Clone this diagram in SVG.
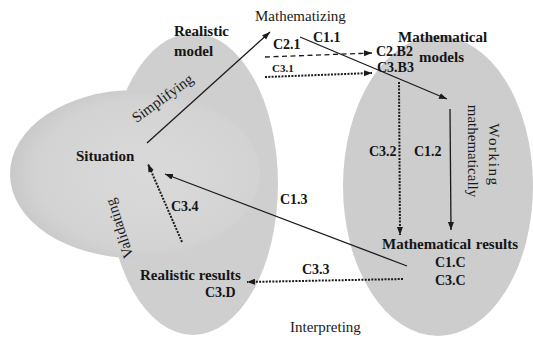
<svg xmlns="http://www.w3.org/2000/svg" width="533" height="338" viewBox="0 0 533 338">
<style>
.b{font-family:"Liberation Serif","Times New Roman",serif;font-weight:bold;font-size:15px;fill:#151515}
.c{font-family:"Liberation Serif","Times New Roman",serif;font-weight:bold;font-size:14px;fill:#151515}
.s{font-family:"Liberation Serif","Times New Roman",serif;font-weight:bold;font-size:11px;fill:#151515}
.r{font-family:"Liberation Serif","Times New Roman",serif;font-size:15px;fill:#1a1a1a}
.solid{stroke:#1a1a1a;stroke-width:1.3;fill:none}
.dash{stroke:#1a1a1a;stroke-width:1.3;fill:none;stroke-dasharray:5 3.5}
.dot{stroke:#1a1a1a;stroke-width:2;fill:none;stroke-dasharray:2 1.3}
</style>
<defs>
<marker id="ah" markerUnits="userSpaceOnUse" markerWidth="9" markerHeight="7" refX="8" refY="3" orient="auto">
<path d="M0,0 L8,3 L0,6 z" fill="#1a1a1a"/>
</marker>
<radialGradient id="hg" cx="0.55" cy="0.5" r="0.55">
<stop offset="0" stop-color="#dadada"/>
<stop offset="0.8" stop-color="#d3d3d3"/>
<stop offset="1" stop-color="#c9c9c9"/>
</radialGradient>
</defs>
<rect width="533" height="338" fill="#ffffff"/>
<g id="shapes">
<ellipse cx="193" cy="184" rx="85" ry="151" fill="#cfcfcf"/>
<ellipse cx="135" cy="174" rx="125" ry="84" fill="url(#hg)"/>
<ellipse cx="438" cy="186" rx="95" ry="150" fill="#cdcdcd"/>
</g>
<g id="connectors">
<line class="solid" x1="147" y1="143" x2="270" y2="32" marker-end="url(#ah)"/>
<line class="solid" x1="300" y1="37" x2="447" y2="99" marker-end="url(#ah)"/>
<line class="dash" x1="265" y1="57" x2="372" y2="53" marker-end="url(#ah)"/>
<line class="dot" x1="265" y1="77" x2="372" y2="73" marker-end="url(#ah)"/>
<line class="dot" x1="399" y1="82" x2="400" y2="235" marker-end="url(#ah)"/>
<line class="solid" x1="450" y1="109" x2="451" y2="230" marker-end="url(#ah)"/>
<line class="solid" x1="407" y1="266" x2="165" y2="174" marker-end="url(#ah)"/>
<line class="dot" x1="403" y1="279" x2="247" y2="282" marker-end="url(#ah)"/>
<line class="dot" x1="182" y1="242" x2="148" y2="164" marker-end="url(#ah)"/>
</g>
<g id="process-labels">
<text class="r" x="255" y="21">Mathematizing</text>
<text class="r" x="290" y="332">Interpreting</text>
<text class="r" text-anchor="middle" transform="translate(165.4,102.2) rotate(-36)">Simplifying</text>
<text class="r" text-anchor="middle" transform="translate(124,227) rotate(-108)">Validating</text>
<text class="r" text-anchor="middle" letter-spacing="1.6" transform="translate(488.5,155) rotate(90)">Working</text>
<text class="r" text-anchor="middle" transform="translate(468,151) rotate(90)">mathematically</text>
</g>
<g id="node-realistic-model">
<text class="b" x="174" y="36">Realistic</text>
<text class="b" x="174" y="56">model</text>
</g>
<g id="node-mathematical-models">
<text class="b" x="398" y="42">Mathematical</text>
<text class="b" x="419" y="62">models</text>
<text class="c" x="376" y="56">C2.B2</text>
<text class="c" x="377" y="72">C3.B3</text>
</g>
<g id="node-situation">
<text class="b" x="76" y="161">Situation</text>
</g>
<g id="node-mathematical-results">
<text class="b" x="382" y="249">Mathematical</text>
<text class="b" x="518" y="249" text-anchor="end">results</text>
<text class="c" x="435" y="267">C1.C</text>
<text class="c" x="435" y="285">C3.C</text>
</g>
<g id="node-realistic-results">
<text class="b" x="140" y="280">Realistic results</text>
<text class="c" x="205" y="297">C3.D</text>
</g>
<g id="connector-labels">
<text class="c" x="273" y="49">C2.1</text>
<text class="c" x="313" y="42">C1.1</text>
<text class="s" x="272" y="72">C3.1</text>
<text class="c" x="369" y="156">C3.2</text>
<text class="c" x="414" y="156">C1.2</text>
<text class="c" x="280" y="204">C1.3</text>
<text class="c" x="171" y="211">C3.4</text>
<text class="c" x="302" y="274">C3.3</text>
</g>
</svg>
